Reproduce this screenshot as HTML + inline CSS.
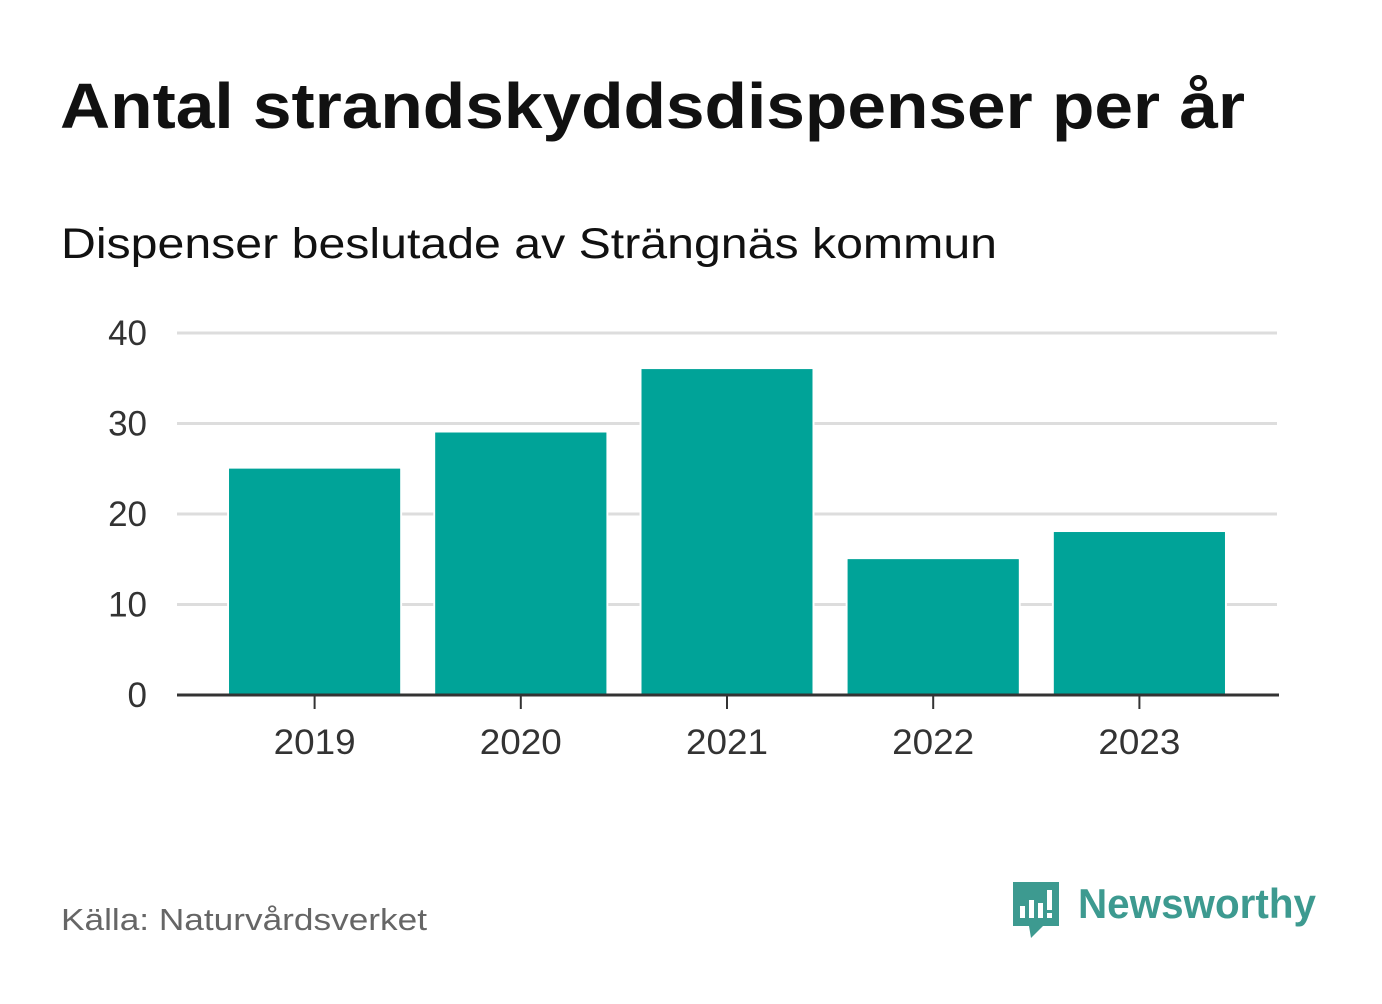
<!DOCTYPE html>
<html><head><meta charset="utf-8"><style>
body{margin:0;background:#fff;width:1382px;height:999px;overflow:hidden;font-family:"Liberation Sans",sans-serif}
</style></head><body>
<svg width="1382" height="999" xmlns="http://www.w3.org/2000/svg">
<text x="60" y="128" font-size="64" font-weight="bold" fill="#111" textLength="1185" lengthAdjust="spacingAndGlyphs">Antal strandskyddsdispenser per år</text>
<text x="61" y="258" font-size="43" fill="#111" textLength="936" lengthAdjust="spacingAndGlyphs">Dispenser beslutade av Strängnäs kommun</text>
<g id="grid"></g><g id="bars"></g><g id="axes"></g>
<text x="61" y="930" font-size="31" fill="#666" textLength="366" lengthAdjust="spacingAndGlyphs">Källa: Naturvårdsverket</text>
<g>
<path d="M1013 882 h46 v44 h-16 l-12 12 l-2 -12 h-16 z" fill="#3d9a90"/>
<rect x="1020" y="906" width="5" height="12" fill="#fff"/><rect x="1029" y="900" width="5" height="18" fill="#fff"/><rect x="1038" y="903" width="5" height="15" fill="#fff"/><rect x="1047" y="890" width="5" height="20" fill="#fff"/><rect x="1047" y="913" width="5" height="5" fill="#fff"/>
<text x="1078" y="918" font-size="42" font-weight="bold" fill="#3d9a90" textLength="238" lengthAdjust="spacingAndGlyphs">Newsworthy</text>
</g>
</svg>
<script>
const categories=["2019","2020","2021","2022","2023"];
const values=[25,29,36,15,18];
const ticks=[0,10,20,30,40];
const NS="http://www.w3.org/2000/svg";
const x0=177,x1=1277,y0=695,y40=333,pad=34.5;
const step=(x1-x0-2*pad)/categories.length,bw=171;
const y=v=>y0+(y40-y0)*v/40;
const xc=i=>x0+pad+step*(i+0.5);
function mk(t,a,p){const e=document.createElementNS(NS,t);for(const k in a)e.setAttribute(k,a[k]);p.appendChild(e);return e;}
const g=document.getElementById('grid'),b=document.getElementById('bars'),ax=document.getElementById('axes');
ticks.forEach(t=>{
 if(t>0){const l=mk('line',{x1:x0,x2:x1,y1:y(t),y2:y(t),stroke:'#ddd','stroke-width':3},g);
 
 }
 const tx=mk('text',{x:147,y:y(t)+12,'font-size':35,fill:'#333','text-anchor':'end'},ax);tx.textContent=t;
 
 
});
values.forEach((v,i)=>{
 const r=mk('rect',{x:xc(i)-bw/2,y:y(v),width:bw,height:y0-y(v),fill:'#00a398',stroke:'#fff','stroke-width':4,'paint-order':'stroke'},b);
 
 
 mk('rect',{x:xc(i)-bw/2,y:y(v),width:bw,height:y0-y(v),fill:'#00a398'},b);
 const tk=mk('line',{x1:xc(i),x2:xc(i),y1:y0,y2:y0+14,stroke:'#333','stroke-width':2},ax);
 
 
 const t=mk('text',{x:xc(i),y:754,'font-size':35,fill:'#333','text-anchor':'middle',textLength:82,lengthAdjust:'spacingAndGlyphs'},ax);t.textContent=categories[i];
 
 
});
const base=mk('line',{x1:x0,x2:x1+2,y1:y0,y2:y0,stroke:'#333','stroke-width':3},ax);


</script>
</body></html>
